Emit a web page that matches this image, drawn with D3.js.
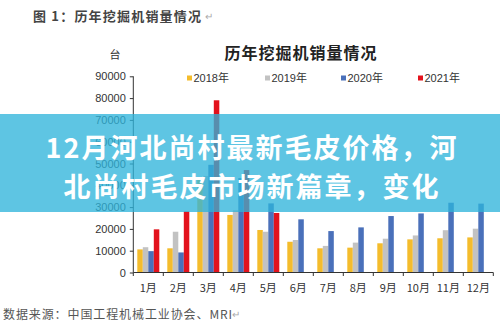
<!DOCTYPE html>
<html>
<head>
<meta charset="utf-8">
<script src="https://cdn.jsdelivr.net/npm/d3@7/dist/d3.min.js"></script>
<style>
  html, body { margin: 0; padding: 0; background: #fff; }
  svg { display: block; }
  text { font-family: "Liberation Sans", "Noto Sans CJK SC", sans-serif; }
  .cjk { font-family: "Noto Sans CJK SC", sans-serif; }
</style>
</head>
<body>
<svg id="chart" width="500" height="327"></svg>
<script>
// Monthly excavator sales (units)
const months = ["1月","2月","3月","4月","5月","6月","7月","8月","9月","10月","11月","12月"];
const years = ["2018年","2019年","2020年","2021年"];
const sales2018 = [10600, 11100, 43000, 26400, 19500, 14100, 11100, 11400, 13400, 15200, 15700, 16100];
const sales2019 = [11600, 18700, 44300, 28500, 18700, 14900, 12200, 13700, 15500, 17000, 19400, 20100];
const sales2020 = [9800, 9200, 49400, 43300, 31700, 24400, 19000, 20700, 25900, 27100, 32000, 31600];
const sales2021 = [19800, 28000, 79000, 47000, 27300];
const yTicks = [0, 10000, 20000, 30000, 40000, 50000, 60000, 70000, 80000, 90000];
const colors = ["#F4BC2C", "#C2C2C2", "#4A70BA", "#E3121C"];

const series = [sales2018, sales2019, sales2020, sales2021];
const rows = [];
series.forEach((vals, si) => vals.forEach((v, mi) => rows.push({ month: months[mi], year: years[si], value: v, si })));

const svg = d3.select("#chart");

// caption above the chart
svg.append("text").attr("class", "cjk")
  .attr("x", 33).attr("y", 15).attr("dominant-baseline", "central")
  .attr("font-size", 13).attr("font-weight", "bold").attr("fill", "#444")
  .attr("letter-spacing", 1.2)
  .text("图 1：历年挖掘机销量情况");
svg.append("text").attr("x", 205).attr("y", 16).attr("dominant-baseline", "central")
  .attr("font-size", 10).attr("fill", "#aaa").text("↵");

// scales
const x0 = d3.scaleBand().domain(months).range([133.3, 493.3]).padding(0);
const x1 = d3.scaleBand().domain(years).range([4, x0.bandwidth() - 4]).padding(0);
const y = d3.scaleLinear().domain([0, 90000]).range([272.5, 76.3]);

// chart title and unit
svg.append("text").attr("class", "cjk")
  .attr("x", 301).attr("y", 52).attr("text-anchor", "middle").attr("dominant-baseline", "central")
  .attr("font-size", 16).attr("font-weight", "bold").attr("fill", "#222").attr("letter-spacing", 1)
  .text("历年挖掘机销量情况");
svg.append("text").attr("class", "cjk")
  .attr("x", 115).attr("y", 54).attr("text-anchor", "middle").attr("dominant-baseline", "central")
  .attr("font-size", 11).attr("fill", "#333").text("台");

// legend
const legendX = [187, 265, 341, 418];
const lg = svg.append("g").selectAll("g").data(years).join("g")
  .attr("transform", (d, i) => `translate(${legendX[i]},78)`);
lg.append("rect").attr("x", 0).attr("y", -2.5).attr("width", 5).attr("height", 5)
  .attr("fill", (d, i) => colors[i]);
lg.append("text").attr("x", 6.5).attr("y", 0).attr("dominant-baseline", "central")
  .attr("font-size", 11).attr("fill", "#333").text(d => d);

// bars
svg.append("g").selectAll("rect").data(rows).join("rect")
  .attr("x", d => x0(d.month) + x1(d.year))
  .attr("width", x1.bandwidth())
  .attr("y", d => y(d.value))
  .attr("height", d => y(0) - y(d.value))
  .attr("fill", d => colors[d.si]);

// y axis
const yAxis = svg.append("g").attr("transform", "translate(133.3,0)")
  .call(d3.axisLeft(y).tickValues(yTicks).tickSize(3.5).tickPadding(4).tickFormat(d3.format("d")));
yAxis.selectAll("text").attr("font-size", 11).attr("fill", "#333");
yAxis.selectAll("line, path").attr("stroke", "#333");
yAxis.select(".domain").attr("d", `M0,${y(90000)}V${y(0)}`);

// x axis with ticks on category boundaries
const xAxis = svg.append("g").attr("transform", `translate(0,${y(0)})`);
xAxis.append("line").attr("x1", x0.range()[0]).attr("x2", x0.range()[1])
  .attr("stroke", "#333").attr("stroke-width", 1);
xAxis.selectAll("line.tick").data(months.concat(["end"])).join("line").attr("class", "tick")
  .attr("x1", (d, i) => x0.range()[0] + i * x0.step())
  .attr("x2", (d, i) => x0.range()[0] + i * x0.step())
  .attr("y1", 0).attr("y2", 3.5).attr("stroke", "#333");
xAxis.selectAll("text").data(months).join("text").attr("class", "cjk")
  .attr("x", d => x0(d) + x0.bandwidth() / 2).attr("y", 14)
  .attr("text-anchor", "middle").attr("dominant-baseline", "central")
  .attr("font-size", 11).attr("fill", "#333").text(d => d);

// source line
svg.append("text").attr("class", "cjk")
  .attr("x", 3).attr("y", 313).attr("dominant-baseline", "central")
  .attr("font-size", 12).attr("fill", "#555").attr("letter-spacing", 0.9)
  .text("数据来源：中国工程机械工业协会、MRI");
svg.append("text").attr("x", 232).attr("y", 314).attr("dominant-baseline", "central")
  .attr("font-size", 10).attr("fill", "#aaa").text("↵");

// headline banner
svg.append("rect").attr("x", 0).attr("y", 114).attr("width", 500).attr("height", 98)
  .attr("fill", "rgb(46,179,219)").attr("fill-opacity", 0.77);
const headline = ["12月河北尚村最新毛皮价格，河", "北尚村毛皮市场新篇章，变化"];
svg.append("g").selectAll("text").data(headline).join("text").attr("class", "cjk")
  .attr("x", 252).attr("y", (d, i) => 146 + i * 39)
  .attr("text-anchor", "middle").attr("dominant-baseline", "central")
  .attr("font-size", 27).attr("font-weight", "bold").attr("fill", "#fff")
  .attr("letter-spacing", 2)
  .text(d => d);
</script>
</body>
</html>
